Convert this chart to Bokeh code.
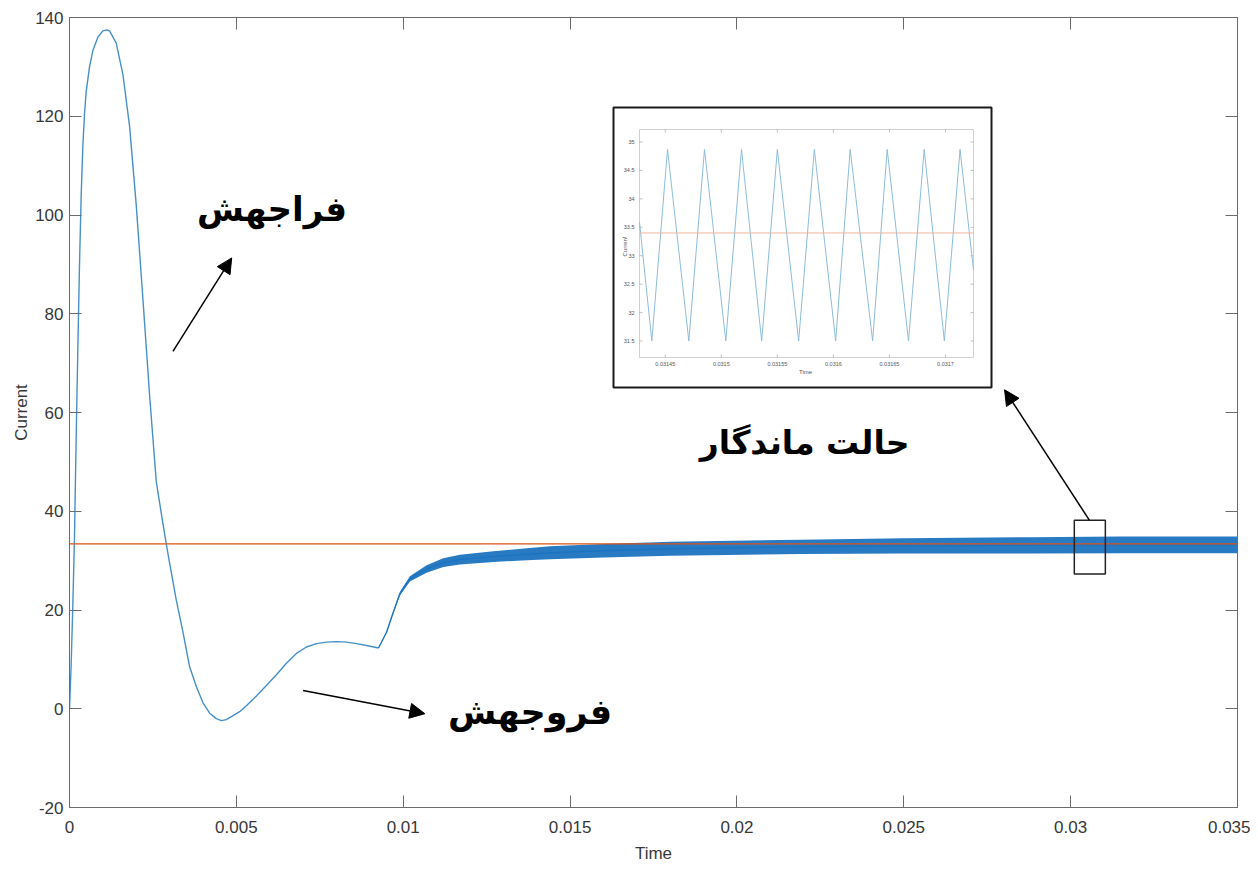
from bokeh.plotting import figure
from bokeh.models import Range1d, LinearAxis, FixedTicker, Arrow, NormalHead, CustomJSTickFormatter
from bokeh.core.properties import value
from bokeh.embed import file_html
from bokeh.resources import INLINE

# ---------------- data ----------------
time_main = [0.0, 0.00005, 0.0001, 0.00015, 0.0002, 0.00025, 0.0003, 0.00035, 0.0004,
             0.00045, 0.0005, 0.0006, 0.0007, 0.00085, 0.001, 0.00112, 0.0012, 0.0014,
             0.0016, 0.0018, 0.002, 0.0022, 0.0024, 0.0026, 0.0028, 0.0029, 0.003,
             0.0032, 0.0034, 0.0036, 0.0038, 0.004, 0.0042, 0.0044, 0.00455, 0.0047,
             0.0049, 0.0051, 0.0053, 0.0056, 0.0059, 0.0062, 0.0065, 0.0068, 0.0071,
             0.0074, 0.0077, 0.008, 0.0083, 0.0086, 0.0089, 0.00926]
current_main = [0.0, 9.0, 21.0, 35.0, 55.0, 73.0, 90.0, 104.0, 114.0,
                120.5, 125.0, 130.0, 133.3, 136.0, 137.3, 137.5, 137.3, 134.8,
                128.5, 118.0, 102.0, 83.0, 63.5, 46.0, 37.5, 33.4, 29.5,
                22.0, 15.5, 8.5, 4.5, 1.2, -0.9, -2.0, -2.4, -2.2,
                -1.4, -0.6, 0.6, 2.6, 4.7, 6.9, 9.2, 11.2, 12.5,
                13.2, 13.5, 13.6, 13.5, 13.2, 12.8, 12.3]

# ripple band (upper / lower envelope of the switching ripple)
band_time = [0.00926, 0.0095, 0.0097, 0.0099, 0.0102, 0.0107, 0.0112, 0.0117, 0.0127,
             0.0137, 0.0144, 0.0160, 0.0180, 0.0219, 0.0250, 0.0288, 0.0315, 0.0350]
band_upper = [12.3, 15.6, 19.7, 23.65, 26.85, 29.05, 30.5, 31.2, 31.9,
              32.5, 32.9, 33.35, 33.8, 34.25, 34.55, 34.75, 34.9, 34.9]
band_lower = [12.3, 15.4, 19.3, 22.95, 25.75, 27.55, 28.7, 29.2, 29.7,
              30.1, 30.3, 30.65, 31.0, 31.35, 31.45, 31.45, 31.5, 31.5]

ref_time = [0.0, 0.035]
ref_current = [33.4, 33.4]

x_ticks = [0.0, 0.005, 0.01, 0.015, 0.02, 0.025, 0.03, 0.035]
x_tick_labels = ["0", "0.005", "0.01", "0.015", "0.02", "0.025", "0.03", "0.035"]
y_ticks = [-20, 0, 20, 40, 60, 80, 100, 120, 140]
y_tick_labels = ["-20", "0", "20", "40", "60", "80", "100", "120", "140"]

# zoomed inset (steady state)
inset_time = [0.031427, 0.031438, 0.031452, 0.031471, 0.031485, 0.031504, 0.031518,
              0.031536, 0.031550, 0.031569, 0.031583, 0.031602, 0.031615, 0.031635,
              0.031648, 0.031667, 0.031681, 0.031699, 0.031713, 0.031725]
inset_current = [33.59, 31.5, 34.87, 31.5, 34.87, 31.5, 34.87,
                 31.5, 34.87, 31.5, 34.87, 31.5, 34.87, 31.5,
                 34.87, 31.5, 34.87, 31.5, 34.87, 32.75]
inset_ref_time = [0.031427, 0.031725]
inset_ref_current = [33.4, 33.4]
inset_x_range = [0.031427, 0.031725]
inset_y_range = [31.21, 35.22]
inset_x_ticks = [0.03145, 0.0315, 0.03155, 0.0316, 0.03165, 0.0317]
inset_x_tick_labels = ["0.03145", "0.0315", "0.03155", "0.0316", "0.03165", "0.0317"]
inset_y_ticks = [31.5, 32.0, 32.5, 33.0, 33.5, 34.0, 34.5, 35.0]
inset_y_tick_labels = ["31.5", "32", "32.5", "33", "33.5", "34", "34.5", "35"]

label_overshoot = "فراجهش"
label_undershoot = "فروجهش"
label_steady = "حالت ماندگار"

# ---------------- layout constants (page pixels) ----------------
FRAME_L, FRAME_T, FRAME_W, FRAME_H = 69, 17, 1168, 790
FRAME_B = FRAME_T + FRAME_H
BORDER_R, BORDER_B = 13, 62
INSET_AX = (639, 973, 129, 357)     # inset axes box: left, right, top, bottom
INSET_BOX = (613, 991, 107, 387)    # black frame round the inset

AX_COLOR = "#6b6b6b"
LBL_COLOR = "#383838"
TICK_FONT = "Liberation Sans"

p = figure(width=FRAME_L + FRAME_W + BORDER_R,
           height=FRAME_T + FRAME_H + BORDER_B,
           x_range=Range1d(0, 0.035), y_range=Range1d(-20, 140),
           output_backend="svg", toolbar_location=None,
           min_border_left=FRAME_L, min_border_top=FRAME_T,
           min_border_right=BORDER_R, min_border_bottom=BORDER_B)
p.grid.visible = False
p.outline_line_color = AX_COLOR
p.background_fill_color = "white"
p.border_fill_color = "white"

bottom_axis = p.xaxis[0]
left_axis = p.yaxis[0]
bottom_axis.axis_label = "Time"
left_axis.axis_label = "Current"
bottom_axis.ticker = FixedTicker(ticks=x_ticks)
left_axis.ticker = FixedTicker(ticks=y_ticks)
bottom_axis.major_label_overrides = dict(zip(x_ticks, x_tick_labels))
left_axis.major_label_overrides = dict(zip(y_ticks, y_tick_labels))
bottom_axis.major_label_standoff = 13
left_axis.major_label_standoff = 6
bottom_axis.axis_label_standoff = 8
left_axis.axis_label_standoff = 1
for ax in (bottom_axis, left_axis):
    ax.major_label_text_font_size = "17px"
    ax.axis_label_text_font_size = "17px"

blank = CustomJSTickFormatter(code="return '';")
right_axis = LinearAxis(ticker=FixedTicker(ticks=y_ticks), formatter=blank,
                        major_label_standoff=0)
top_axis = LinearAxis(ticker=FixedTicker(ticks=x_ticks), formatter=blank,
                      major_label_standoff=0)
p.add_layout(right_axis, "right")
p.add_layout(top_axis, "above")

for ax in (bottom_axis, left_axis, right_axis, top_axis):
    ax.axis_line_color = AX_COLOR
    ax.major_tick_line_color = AX_COLOR
    ax.major_tick_in = 12
    ax.major_tick_out = 0
    ax.minor_tick_line_color = None
    ax.major_label_text_color = LBL_COLOR
    ax.axis_label_text_color = LBL_COLOR
    ax.axis_label_text_font_style = "normal"
    ax.axis_label_text_font = TICK_FONT
    ax.major_label_text_font = TICK_FONT

# ---------------- main series ----------------
p.line(time_main, current_main, line_color="#4690c8", line_width=1.4)
p.varea(x=band_time, y1=band_lower, y2=band_upper, fill_color="#1c74c0", fill_alpha=0.95)
band_mid = [(u + l) / 2 for u, l in zip(band_upper, band_lower)]
p.line(band_time, band_mid, line_color="#1c74c0", line_width=1.4)
p.line(ref_time, ref_current, line_color="#D95319", line_width=1.1)

# ---------------- inset through extra ranges ----------------
ix_k = (INSET_AX[1] - INSET_AX[0]) / (inset_x_range[1] - inset_x_range[0])
iy_k = (INSET_AX[3] - INSET_AX[2]) / (inset_y_range[1] - inset_y_range[0])
ix_start = inset_x_range[0] - (INSET_AX[0] - FRAME_L) / ix_k
iy_start = inset_y_range[0] - (FRAME_B - INSET_AX[3]) / iy_k
p.extra_x_ranges = {"ix": Range1d(ix_start, ix_start + FRAME_W / ix_k)}
p.extra_y_ranges = {"iy": Range1d(iy_start, iy_start + FRAME_H / iy_k)}


def px2ix(px):
    return ix_start + (px - FRAME_L) / ix_k


def py2iy(py):
    return iy_start + (FRAME_B - py) / iy_k


R = dict(x_range_name="ix", y_range_name="iy")
p.quad(left=[px2ix(INSET_BOX[0])], right=[px2ix(INSET_BOX[1])],
       top=[py2iy(INSET_BOX[2])], bottom=[py2iy(INSET_BOX[3])],
       fill_color="white", line_color="#1a1a1a", line_width=2, **R)
p.quad(left=[inset_x_range[0]], right=[inset_x_range[1]],
       top=[inset_y_range[1]], bottom=[inset_y_range[0]],
       fill_color=None, line_color="#c4c4c4", line_width=0.8, **R)

tlx = 3 / ix_k
tly = 3 / iy_k
p.segment(x0=inset_x_ticks, y0=[inset_y_range[0]] * len(inset_x_ticks),
          x1=inset_x_ticks, y1=[inset_y_range[0] + tly] * len(inset_x_ticks),
          line_color="#b0b0b0", line_width=0.8, **R)
p.segment(x0=inset_x_ticks, y0=[inset_y_range[1]] * len(inset_x_ticks),
          x1=inset_x_ticks, y1=[inset_y_range[1] - tly] * len(inset_x_ticks),
          line_color="#b0b0b0", line_width=0.8, **R)
p.segment(x0=[inset_x_range[0]] * len(inset_y_ticks), y0=inset_y_ticks,
          x1=[inset_x_range[0] + tlx] * len(inset_y_ticks), y1=inset_y_ticks,
          line_color="#b0b0b0", line_width=0.8, **R)
p.segment(x0=[inset_x_range[1]] * len(inset_y_ticks), y0=inset_y_ticks,
          x1=[inset_x_range[1] - tlx] * len(inset_y_ticks), y1=inset_y_ticks,
          line_color="#b0b0b0", line_width=0.8, **R)

p.text(x=inset_x_ticks, y=[py2iy(363)] * len(inset_x_ticks), text=inset_x_tick_labels,
       text_font=value("Liberation Sans"), text_font_size="5.5px", text_color="#555555",
       text_align="center", text_baseline="middle", **R)
p.text(x=[px2ix(634)] * len(inset_y_ticks), y=inset_y_ticks, text=inset_y_tick_labels,
       text_font=value("Liberation Sans"), text_font_size="5.5px", text_color="#555555",
       text_align="right", text_baseline="middle", **R)
p.text(x=[px2ix(805)], y=[py2iy(371)], text=["Time"],
       text_font=value("Liberation Sans"), text_font_size="6px", text_color="#555555",
       text_align="center", text_baseline="middle", **R)
p.text(x=[px2ix(624)], y=[py2iy(246)], text=["Current"], angle=1.5708,
       text_font=value("Liberation Sans"), text_font_size="6px", text_color="#555555",
       text_align="center", text_baseline="middle", **R)

p.line(inset_time, inset_current, line_color="#8dbcdc", line_width=1.0, **R)
p.line(inset_ref_time, inset_ref_current, line_color="#eeb49b", line_width=1.0, **R)

# ---------------- annotations ----------------
p.quad(left=[0.03011], right=[0.03104], bottom=[27.3], top=[38.2],
       fill_color=None, line_color="#222222", line_width=1.5)

for xs, ys, xe, ye in [(0.0031, 72.4, 0.00486, 91.3),
                       (0.0070, 3.7, 0.01065, -1.0),
                       (0.03056, 38.2, 0.02802, 64.6)]:
    p.add_layout(Arrow(end=NormalHead(size=15, fill_color="black", line_color="black"),
                       x_start=xs, y_start=ys, x_end=xe, y_end=ye,
                       line_color="black", line_width=1.5))

for tx, ty, s, fs in [(0.00607, 101.2, label_overshoot, "34px"),
                      (0.0138, -0.6, label_undershoot, "35px"),
                      (0.02203, 53.9, label_steady, "33px")]:
    p.text(x=[tx], y=[ty], text=[s], text_font=value("DejaVu Sans"),
           text_font_style="bold", text_font_size=fs, text_color="black",
           text_align="center", text_baseline="middle")

open("out.html", "w").write(file_html(p, INLINE))
